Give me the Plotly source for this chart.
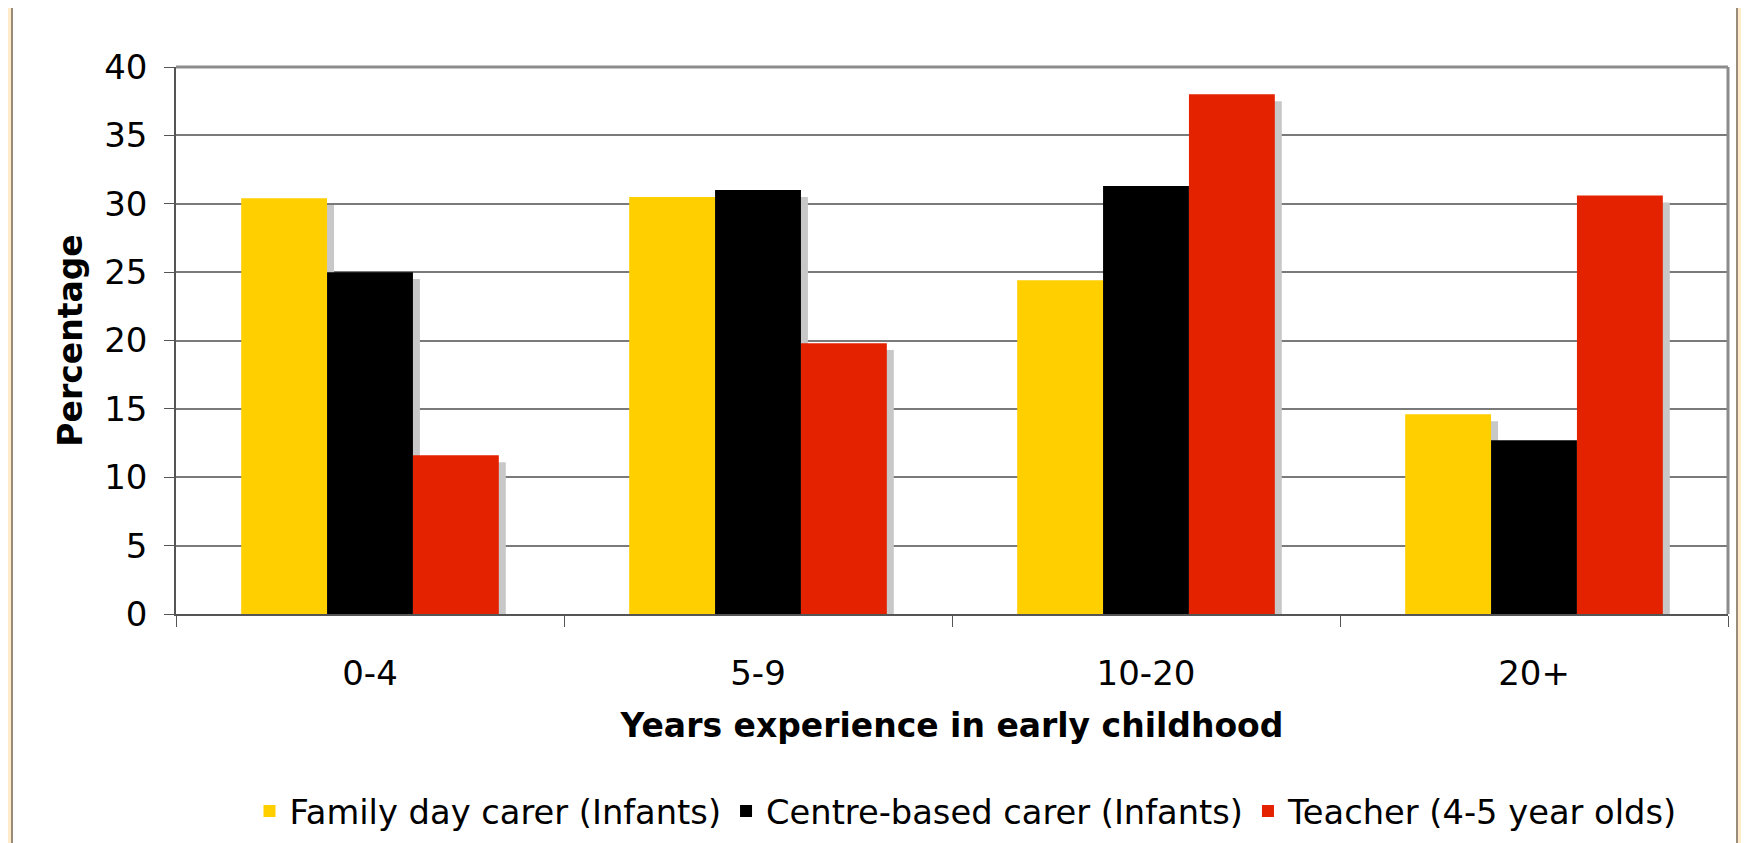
import plotly.graph_objects as go

# data
categories = ["0-4", "5-9", "10-20", "20+"]
family_day = [30.4, 30.5, 24.4, 14.6]
centre_based = [25.0, 31.0, 31.3, 12.7]
teacher = [11.6, 19.8, 38.0, 30.6]

series = [
    ("Family day carer (Infants)", family_day, "#FFCF00"),
    ("Centre-based carer (Infants)", centre_based, "#000000"),
    ("Teacher (4-5 year olds)", teacher, "#E52200"),
]

# page body has an 8px margin, so work in screen pixels and shift
OFF = 8
W, H = 1749 - OFF, 843 - OFF
L, R, T, B = 176 - OFF, 1728 - OFF, 67 - OFF, 614 - OFF
FONT = "DejaVu Sans, Verdana, sans-serif"

bar_w = 0.664 / 3
offsets = [-1.5 * bar_w, -0.5 * bar_w, 0.5 * bar_w]
shadow_dx = 0.018
shadow_dy = 0.5

fig = go.Figure()

# drop shadows first so every bar sits on top of them
for (name, vals, col), off in zip(series, offsets):
    fig.add_trace(go.Bar(
        x=categories, y=[v - shadow_dy for v in vals], width=bar_w, offset=off + shadow_dx,
        marker=dict(color="#C8C8C8", line=dict(width=0)),
        showlegend=False, hoverinfo="skip"))

for (name, vals, col), off in zip(series, offsets):
    fig.add_trace(go.Bar(
        x=categories, y=vals, name=name, width=bar_w, offset=off,
        marker=dict(color=col, line=dict(width=0))))

pw, ph = R - L, B - T
px = lambda x: (x - OFF - L) / pw   # screen x -> paper
py = lambda y: (B - (y - OFF)) / ph  # screen y -> paper

fig.update_layout(
    width=W, height=H,
    margin=dict(l=L, r=W - R, t=T, b=H - B, autoexpand=False),
    barmode="overlay",
    paper_bgcolor="#FFEBC8",
    plot_bgcolor="white",
    font=dict(family=FONT, size=34, color="black"),
    showlegend=True,
    legend=dict(orientation="h", x=px(966), xanchor="center", y=py(811), yanchor="middle",
                font=dict(size=33.7), bgcolor="rgba(0,0,0,0)", traceorder="normal"),
    shapes=[
        # white panel behind the chart
        dict(type="rect", xref="paper", yref="paper", layer="below",
             x0=px(12), x1=px(1737), y0=py(870), y1=py(6),
             fillcolor="white", line=dict(color="#9A8C78", width=2)),
        # top and right frame of the plot area
        dict(type="line", xref="paper", yref="paper", x0=0, x1=1, y0=1, y1=1,
             line=dict(color="#8C8C8C", width=3)),
        dict(type="line", xref="paper", yref="paper", x0=1, x1=1, y0=0, y1=1,
             line=dict(color="#8C8C8C", width=3)),
    ],
)

fig.update_xaxes(
    range=[-0.5, 3.5], tickson="boundaries", ticks="outside", ticklen=11,
    tickcolor="#555555", tickwidth=1, showline=True, linecolor="#555555", linewidth=2,
    showgrid=False, tickfont=dict(size=34), ticklabelstandoff=28,
    title=dict(text="<b>Years experience in early childhood</b>", font=dict(size=33), standoff=22),
)
fig.update_yaxes(
    range=[0, 40], dtick=5, ticks="outside", ticklen=10, tickcolor="#555555", tickwidth=1,
    showline=True, linecolor="#555555", linewidth=1.5,
    showgrid=True, gridcolor="#7A7A7A", gridwidth=1.5, zeroline=False,
    tickfont=dict(size=34), ticklabelstandoff=10,
    title=dict(text="<b>Percentage</b>", font=dict(size=33), standoff=12),
)

fig.write_html("out.html")
